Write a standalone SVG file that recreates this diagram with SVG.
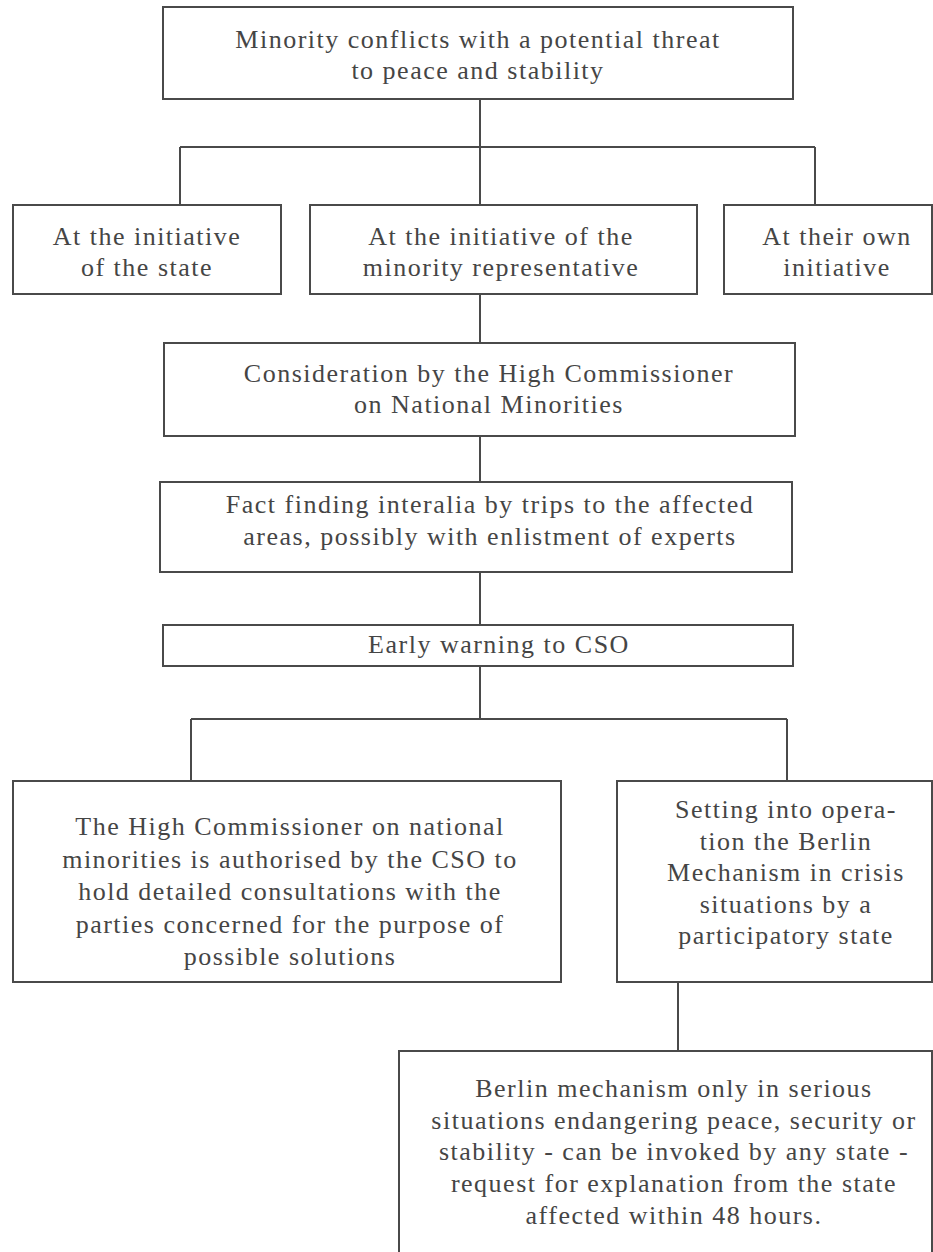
<svg xmlns="http://www.w3.org/2000/svg" width="933" height="1252" viewBox="0 0 933 1252">
<style>
.box{fill:#fff;stroke:#4a4a4a;stroke-width:2}
.ln{fill:none;stroke:#4a4a4a;stroke-width:2}
text{font-family:"Liberation Serif","Times New Roman",serif;font-size:26px;fill:#454545;text-anchor:middle;letter-spacing:1.5px}
</style>
<rect width="933" height="1252" fill="#fff"/>
<g id="connectors">
<path class="ln" d="M480 99V147M180 147H815M180 147V205M480 147V205M815 147V205"/>
<path class="ln" d="M480 294V343M480 436V482M480 572V625M480 666V719"/>
<path class="ln" d="M191 719H787M191 719V781M787 719V781M678 982V1051"/>
</g>
<g id="n1"><rect class="box" x="163" y="7" width="630" height="92"/>
<text x="478" y="48">Minority conflicts with a potential threat</text>
<text x="478" y="79">to peace and stability</text></g>
<g id="n2"><rect class="box" x="13" y="205" width="268" height="89"/>
<text x="147" y="245">At the initiative</text>
<text x="147" y="276">of the state</text></g>
<g id="n3"><rect class="box" x="310" y="205" width="387" height="89"/>
<text x="501" y="245">At the initiative of the</text>
<text x="501" y="276">minority representative</text></g>
<g id="n4"><rect class="box" x="724" y="205" width="208" height="89"/>
<text x="837" y="245">At their own</text>
<text x="837" y="276">initiative</text></g>
<g id="n5"><rect class="box" x="164" y="343" width="631" height="93"/>
<text x="489" y="382">Consideration by the High Commissioner</text>
<text x="489" y="413">on National Minorities</text></g>
<g id="n6"><rect class="box" x="160" y="482" width="632" height="90"/>
<text x="490" y="513">Fact finding interalia by trips to the affected</text>
<text x="490" y="545">areas, possibly with enlistment of experts</text></g>
<g id="n7"><rect class="box" x="163" y="625" width="630" height="41"/>
<text x="499" y="653">Early warning to CSO</text></g>
<g id="n8"><rect class="box" x="13" y="781" width="548" height="201"/>
<text x="290" y="835">The High Commissioner on national</text>
<text x="290" y="868">minorities is authorised by the CSO to</text>
<text x="290" y="900">hold detailed consultations with the</text>
<text x="290" y="933">parties concerned for the purpose of</text>
<text x="290" y="965">possible solutions</text></g>
<g id="n9"><rect class="box" x="617" y="781" width="315" height="201"/>
<text x="786" y="818">Setting into opera-</text>
<text x="786" y="850">tion the Berlin</text>
<text x="786" y="881">Mechanism in crisis</text>
<text x="786" y="913">situations by a</text>
<text x="786" y="944">participatory state</text></g>
<g id="n10"><rect class="box" x="399" y="1051" width="533" height="230"/>
<text x="674" y="1097">Berlin mechanism only in serious</text>
<text x="674" y="1129">situations endangering peace, security or</text>
<text x="674" y="1160">stability - can be invoked by any state -</text>
<text x="674" y="1192">request for explanation from the state</text>
<text x="674" y="1224">affected within 48 hours.</text></g>
</svg>
